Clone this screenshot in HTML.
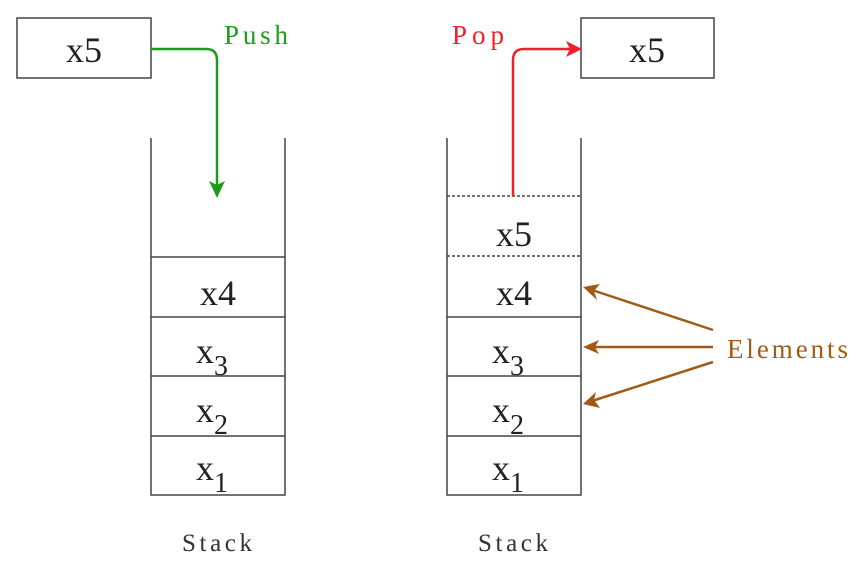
<!DOCTYPE html>
<html><head><style>body{margin:0;background:#fff}</style></head><body>
<svg width="861" height="566" xmlns="http://www.w3.org/2000/svg" font-family="Liberation Serif, serif">
<g stroke="#444" stroke-width="1.5" fill="none">
<rect x="17" y="18" width="134" height="60"/>
<rect x="581" y="18" width="133" height="60"/>
<path d="M151,138V495H285V138"/>
<path d="M151,257H285M151,317H285M151,376H285M151,436H285"/>
<path d="M447,257V495H581V257"/>
<path d="M447,317H581M447,376H581M447,436H581"/>
<path d="M447,138V257M581,138V257"/>
<path d="M447,196H581M447,256H581" stroke-dasharray="3,2"/>
</g>
<path d="M151,49H206Q217,49 217,60V185" stroke="#1a9e1a" stroke-width="2.5" fill="none"/>
<path d="M209,181 L217,198 L225,181 L217,185z" fill="#1a9e1a"/>
<path d="M513,196V60Q513,49 524,49H570" stroke="#f0202a" stroke-width="2.5" fill="none"/>
<path d="M566,41 L582,49 L566,57 L570,49z" fill="#f0202a"/>
<g stroke="#a25a14" stroke-width="2.5">
<line x1="713" y1="330" x2="592" y2="290"/>
<line x1="713" y1="347" x2="592" y2="347"/>
<line x1="713" y1="362" x2="592" y2="401"/>
</g>
<g fill="#a25a14">
<path d="M583,287 L600,284 L594,291 L597,300z"/>
<path d="M583,347 L599,340 L595,347 L599,354z"/>
<path d="M583,404 L596,392 L594,400 L600,408z"/>
</g>
<g font-size="36" fill="#222" text-anchor="middle">
<text x="84" y="62">x5</text>
<text x="647" y="62">x5</text>
<text x="218" y="305">x4</text>
<text x="212" y="363">x<tspan font-size="28" dy="12">3</tspan></text>
<text x="212" y="422">x<tspan font-size="28" dy="12">2</tspan></text>
<text x="212" y="480">x<tspan font-size="28" dy="12">1</tspan></text>
<text x="514" y="246">x5</text>
<text x="514" y="305">x4</text>
<text x="508" y="363">x<tspan font-size="28" dy="12">3</tspan></text>
<text x="508" y="422">x<tspan font-size="28" dy="12">2</tspan></text>
<text x="508" y="480">x<tspan font-size="28" dy="12">1</tspan></text>
</g>
<text x="224" y="44" font-size="27" fill="#1a9e1a" textLength="64">Push</text>
<text x="452" y="44" font-size="27" fill="#f0202a" textLength="52">Pop</text>
<text x="727" y="358" font-size="27" fill="#a25a14" textLength="121">Elements</text>
<text x="182" y="551" font-size="25" fill="#333" textLength="70">Stack</text>
<text x="478" y="551" font-size="25" fill="#333" textLength="70">Stack</text>
</svg>
</body></html>
